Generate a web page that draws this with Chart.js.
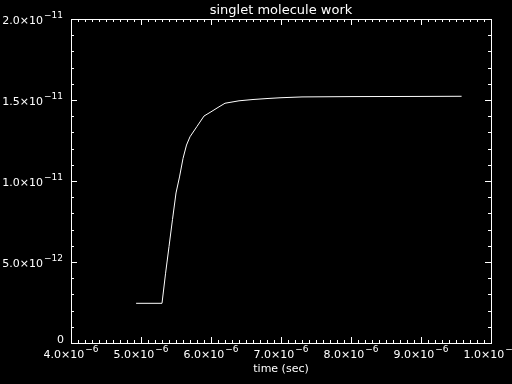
<html>
<head>
<title>singlet molecule work</title>
<script src="https://cdn.jsdelivr.net/npm/chart.js@4.4.0/dist/chart.umd.min.js"></script>
<style>
  body { margin: 0; background: #000; }
  canvas { display: block; }
</style>
</head>
<body>
<canvas id="myChart" width="512" height="384"></canvas>
<script>
// time (sec) and work values
const times = [4.93e-6, 5.30e-6, 5.35e-6, 5.40e-6, 5.45e-6, 5.50e-6, 5.55e-6, 5.60e-6, 5.65e-6,
               5.70e-6, 5.80e-6, 5.90e-6, 6.00e-6, 6.10e-6, 6.20e-6, 6.40e-6, 6.60e-6, 6.80e-6,
               7.00e-6, 7.30e-6, 8.00e-6, 9.00e-6, 9.58e-6];
const work = [2.45e-12, 2.45e-12, 4.27e-12, 5.95e-12, 7.63e-12, 9.26e-12, 10.25e-12, 11.39e-12, 12.22e-12,
              12.73e-12, 13.37e-12, 14.01e-12, 14.27e-12, 14.54e-12, 14.80e-12, 14.95e-12, 15.03e-12, 15.09e-12,
              15.14e-12, 15.19e-12, 15.21e-12, 15.22e-12, 15.23e-12];

const xTicks = [4e-6, 5e-6, 6e-6, 7e-6, 8e-6, 9e-6, 1e-5];
const xTickMant = ['4.0', '5.0', '6.0', '7.0', '8.0', '9.0', '1.0'];
const xTickExp = ['\u22126', '\u22126', '\u22126', '\u22126', '\u22126', '\u22126', '\u22125'];
const yTicks = [0, 5e-12, 1e-11, 1.5e-11, 2e-11];
const yTickMant = ['0', '5.0', '1.0', '1.5', '2.0'];
const yTickExp = ['', '\u221212', '\u221211', '\u221211', '\u221211'];

const titleText = 'singlet molecule work';
const xTitle = 'time (sec)';

const mainFont = '11px "DejaVu Sans"';
const supFont = '9px "DejaVu Sans"';

// IDL style box axes, drawn by hand on top of the library scales
const idlAxes = {
    id: 'idlAxes',
    beforeDraw(chart) {
        const c = chart.ctx;
        c.save();
        c.fillStyle = '#000';
        c.fillRect(0, 0, chart.width, chart.height);
        c.restore();
    },
    afterDraw(chart) {
        const c = chart.ctx;
        const a = chart.chartArea;
        const xs = chart.scales.x, ys = chart.scales.y;
        c.save();
        c.strokeStyle = '#fff';
        c.fillStyle = '#fff';
        c.lineWidth = 1;
        c.strokeRect(Math.round(a.left) + 0.5, Math.round(a.top) + 0.5,
                     Math.round(a.right - a.left), Math.round(a.bottom - a.top));

        c.beginPath();
        // x minor + major ticks
        for (let i = 0; i <= 60; i++) {
            const v = 4e-6 + i * 1e-7;
            const px = Math.round(xs.getPixelForValue(v)) + 0.5;
            const len = (i % 10 === 0) ? 6 : 3;
            c.moveTo(px, a.bottom); c.lineTo(px, a.bottom - len);
            c.moveTo(px, a.top); c.lineTo(px, a.top + len);
        }
        // y minor + major ticks
        for (let i = 0; i <= 20; i++) {
            const v = i * 1e-12;
            const py = Math.round(ys.getPixelForValue(v)) + 0.5;
            const len = (i % 5 === 0) ? 6 : 3;
            c.moveTo(a.left, py); c.lineTo(a.left + len, py);
            c.moveTo(a.right, py); c.lineTo(a.right - len, py);
        }
        c.stroke();

        // x labels, centred on ticks
        c.textBaseline = 'alphabetic';
        xTicks.forEach((v, i) => {
            const px = xs.getPixelForValue(v);
            const main = xTickMant[i] + '\u00d710';
            c.font = mainFont;
            const w1 = c.measureText(main).width;
            c.font = supFont;
            const w2 = c.measureText(xTickExp[i]).width;
            const x0 = px - (w1 + 1 + w2) / 2;
            c.font = mainFont;
            c.textAlign = 'left';
            c.fillText(main, x0, a.bottom + 15);
            c.font = supFont;
            c.fillText(xTickExp[i], x0 + w1 + 1, a.bottom + 9);
        });

        // y labels, right aligned left of the axis
        yTicks.forEach((v, i) => {
            const py = ys.getPixelForValue(v);
            c.textAlign = 'left';
            if (!yTickExp[i]) {
                c.font = mainFont;
                const w = c.measureText(yTickMant[i]).width;
                c.fillText(yTickMant[i], a.left - 7 - w, py);
                return;
            }
            const main = yTickMant[i] + '\u00d710';
            c.font = mainFont;
            const w1 = c.measureText(main).width;
            c.font = supFont;
            const w2 = c.measureText(yTickExp[i]).width;
            const x0 = a.left - 8 - w2 - 1 - w1;
            c.font = mainFont;
            c.fillText(main, x0, py + 5);
            c.font = supFont;
            c.fillText(yTickExp[i], x0 + w1 + 1, py - 1);
        });

        // titles
        c.textAlign = 'center';
        c.font = '13px "DejaVu Sans"';
        c.fillText(titleText, (a.left + a.right) / 2, 14);
        c.font = mainFont;
        c.fillText(xTitle, (a.left + a.right) / 2, a.bottom + 29);
        c.restore();
    }
};

const points = times.map((t, i) => ({ x: t, y: work[i] }));

const ctx = document.getElementById('myChart').getContext('2d');
const chart = new Chart(ctx, {
    type: 'line',
    data: {
        datasets: [{
            data: points,
            borderColor: '#fff',
            borderWidth: 1,
            pointRadius: 0,
            tension: 0,
            fill: false
        }]
    },
    options: {
        responsive: false,
        animation: false,
        layout: { padding: { left: 71, right: 21, top: 19, bottom: 41 } },
        plugins: { legend: { display: false }, tooltip: { enabled: false }, title: { display: false } },
        scales: {
            x: { type: 'linear', min: 4e-6, max: 1e-5, display: false },
            y: { type: 'linear', min: 0, max: 2e-11, display: false }
        }
    },
    plugins: [idlAxes]
});
</script>
</body>
</html>
